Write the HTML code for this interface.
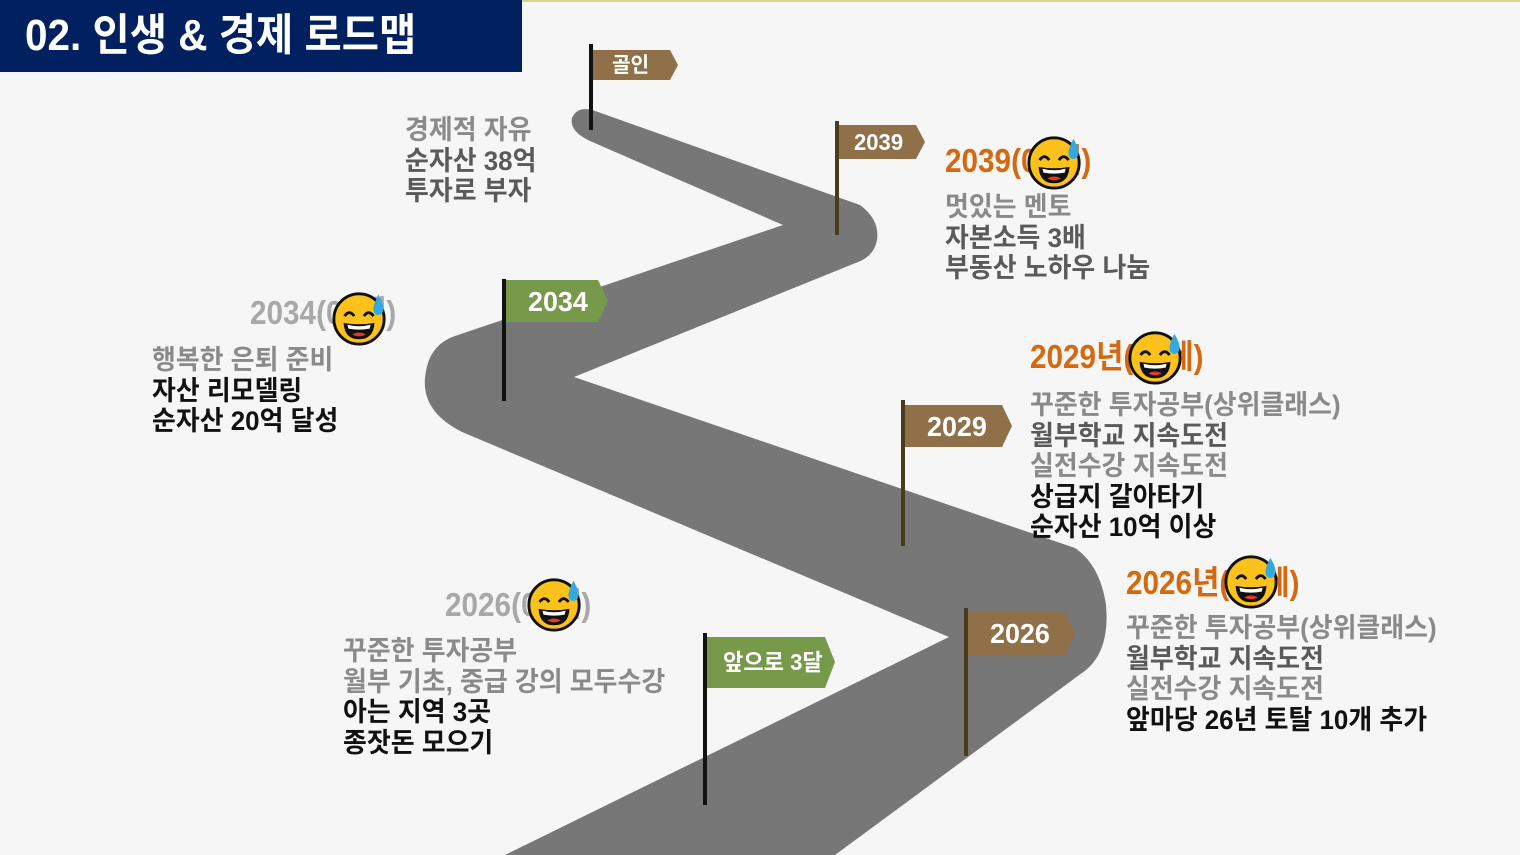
<!DOCTYPE html>
<html><head><meta charset="utf-8">
<style>
body{margin:0;width:1520px;height:855px;overflow:hidden;background:#f6f6f6;font-family:"Liberation Sans","Noto Sans CJK KR",sans-serif;}
.t{position:absolute;font-weight:700;white-space:nowrap;transform-origin:0 0;transform:scaleX(0.96);font-size:27px;line-height:30.5px;}
.g{color:#8a8a8a}.d{color:#5a5a5a}.k{color:#111}.o{color:#d4690f}.l{color:#a8a8a8}
.y{font-size:33px;line-height:38px;transform:scaleX(0.9);}
.emo{position:absolute;width:58px;height:58px;}
</style></head><body>
<div style="position:absolute;left:522px;top:0;width:998px;height:2px;background:#d8d48e"></div>
<div style="position:absolute;left:0;top:0;width:522px;height:72px;background:#002060"></div>
<div class="t" style="left:25px;top:8px;color:#fff;font-size:44px;line-height:56px;transform:scaleX(0.92)">02. 인생 &amp; 경제 로드맵</div>

<svg width="1520" height="855" style="position:absolute;left:0;top:0">
<defs>
<symbol id="e" viewBox="0 0 60 60">
<circle cx="29" cy="31" r="26" fill="#fcc21b" stroke="#111" stroke-width="3"/>
<path d="M14 28 q5 -7 10 0 M34 28 q5 -7 10 0" stroke="#111" stroke-width="3" fill="none"/>
<path d="M13 35 Q29 38 45 35 Q44 52 29 52 Q14 52 13 35Z" fill="#111"/>
<path d="M17 37 Q29 40 41 37 L40 41 Q29 43 18 41Z" fill="#fff"/>
<path d="M22 47 Q29 43 36 47 Q29 51 22 47Z" fill="#e03a2a"/>
<path d="M49 6 Q56 18 54 22 A5 5 0 0 1 44 22 Q43 18 49 6Z" fill="#35a8e0"/>
</symbol>
</defs>
<path d="M505,855 L949,637 L462,432 Q422,412 425,378 Q428,345 455,336 L783,225 L590,141 Q569,131 572,118 Q578,104 598,112 L860,205 Q880,220 877,240 Q874,256 858,262 L574,377 L1075,548 Q1100,565 1106,605 Q1110,650 1086,670 L835,855 Z" fill="#777"/>
<g>
<rect x="589" y="44" width="4" height="86" fill="#111"/>
<polygon points="593,50 670,50 678,65 670,80 593,80" fill="#8f7049"/>
<rect x="835" y="121" width="4" height="114" fill="#4a3a1e"/>
<polygon points="839,125 916,125 925,142 916,159 839,159" fill="#8f7049"/>
<rect x="502" y="279" width="4" height="122" fill="#111"/>
<polygon points="506,280 598,280 608,301 598,322 506,322" fill="#76994a"/>
<rect x="901" y="400" width="4" height="146" fill="#4a3a1e"/>
<polygon points="905,405 1002,405 1012,426 1002,447 905,447" fill="#8f7049"/>
<rect x="964" y="608" width="4" height="148" fill="#4a3a1e"/>
<polygon points="968,612 1065,612 1075,633 1065,655 968,655" fill="#8f7049"/>
<rect x="703" y="633" width="4" height="172" fill="#111"/>
<polygon points="707,637 825,637 835,662 825,688 707,688" fill="#76994a"/>
</g>
</svg>
<div class="t" style="left:612px;top:52px;color:#fff;font-size:21px;line-height:28px">골인</div>
<div class="t" style="left:854px;top:127px;color:#fff;font-size:23px;line-height:30px">2039</div>
<div class="t" style="left:528px;top:284px;color:#fff;font-size:28px;line-height:36px">2034</div>
<div class="t" style="left:927px;top:409px;color:#fff;font-size:28px;line-height:36px">2029</div>
<div class="t" style="left:990px;top:616px;color:#fff;font-size:28px;line-height:36px">2026</div>
<div class="t" style="left:723px;top:645px;color:#fff;font-size:23px;line-height:34px">앞으로 3달</div>

<div class="t" style="left:405px;top:115px"><div class="g">경제적 자유</div><div class="d">순자산 38억</div><div class="d">투자로 부자</div></div>

<div class="t o y" style="left:945px;top:142px">2039(00세)</div>
<div class="t" style="left:945px;top:192px"><div class="g">멋있는 멘토</div><div class="d">자본소득 3배</div><div class="d">부동산 노하우 나눔</div></div>

<div class="t l y" style="left:250px;top:294px">2034(00세)</div>
<div class="t" style="left:152px;top:345px"><div class="g">행복한 은퇴 준비</div><div class="k">자산 리모델링</div><div class="k">순자산 20억 달성</div></div>

<div class="t o y" style="left:1030px;top:338px">2029년(00세)</div>
<div class="t" style="left:1030px;top:390px"><div class="g">꾸준한 투자공부(상위클래스)</div><div class="d">월부학교 지속도전</div><div class="g">실전수강 지속도전</div><div class="k">상급지 갈아타기</div><div class="k">순자산 10억 이상</div></div>

<div class="t o y" style="left:1126px;top:564px">2026년(00세)</div>
<div class="t" style="left:1126px;top:613px"><div class="g">꾸준한 투자공부(상위클래스)</div><div class="d">월부학교 지속도전</div><div class="g">실전수강 지속도전</div><div class="k">앞마당 26년 토탈 10개 추가</div></div>

<div class="t l y" style="left:445px;top:586px">2026(00세)</div>
<div class="t" style="left:343px;top:636px"><div class="g">꾸준한 투자공부</div><div class="g">월부 기초, 중급 강의 모두수강</div><div class="k">아는 지역 3곳</div><div class="k">종잣돈 모으기</div></div>

<svg class="emo" style="left:1026px;top:133px"><use href="#e"/></svg>
<svg class="emo" style="left:331px;top:289px"><use href="#e"/></svg>
<svg class="emo" style="left:1127px;top:328px"><use href="#e"/></svg>
<svg class="emo" style="left:1223px;top:552px"><use href="#e"/></svg>
<svg class="emo" style="left:526px;top:575px"><use href="#e"/></svg>
</body></html>
